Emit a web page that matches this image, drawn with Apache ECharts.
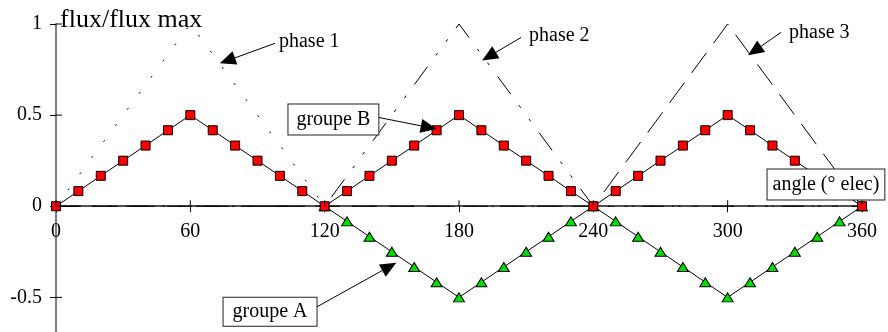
<!DOCTYPE html>
<html><head><meta charset="utf-8">
<script src="https://cdn.jsdelivr.net/npm/echarts@6/dist/echarts.min.js"></script>
<style>html,body{margin:0;padding:0;background:#fff}#c{width:888px;height:332px}</style>
</head><body><div id="c"></div>
<script>
// ---- data ----
const angles = [0,10,20,30,40,50,60,70,80,90,100,110,120,130,140,150,160,170,180,190,200,210,220,230,240,250,260,270,280,290,300,310,320,330,340,350,360];
const groupeB = [0,0.083,0.167,0.25,0.333,0.417,0.5,0.417,0.333,0.25,0.167,0.083,0,
                 0.083,0.167,0.25,0.333,0.417,0.5,0.417,0.333,0.25,0.167,0.083,0,
                 0.083,0.167,0.25,0.333,0.417,0.5,0.417,0.333,0.25,0.167,0.083,0];
const groupeA = [null,null,null,null,null,null,null,null,null,null,null,null,0,
                 -0.083,-0.167,-0.25,-0.333,-0.417,-0.5,-0.417,-0.333,-0.25,-0.167,-0.083,0,
                 -0.083,-0.167,-0.25,-0.333,-0.417,-0.5,-0.417,-0.333,-0.25,-0.167,-0.083,0];
const phaseAngles = [0,60,120,180,240,300,360];
const phase1 = [0,1,0,0,0,0,0];
const phase2 = [0,0,0,1,0,0,0];
const phase3 = [0,0,0,0,0,1,0];
const xTicks = [0,60,120,180,240,300,360];
const yTicks = [-0.5,0,0.5,1];
const yTickLabels = ['-0.5','0','0.5','1'];

// ---- annotations (data units) ----
const phaseLabels = ['phase 1','phase 2','phase 3'];
const phaseLabelPos = [[99.6,0.90],[211.3,0.938],[327.4,0.954]];
const boxLabels = ['groupe B','groupe A','angle (° elec)'];
const boxCenters = [[123.9,0.476],[95.6,-0.579],[343.9,0.119]];
const boxPadding = [[4,8],[3,9],[4,5]];
const arrowTails = [[97.8,0.894],[207.7,0.926],[323.8,0.954],[143.4,0.489],[116.1,-0.555]];
const arrowTips  = [[73.2,0.784],[190.3,0.80],[309.1,0.828],[170.0,0.424],[152.0,-0.31]];
const yName = 'flux/flux max';
const yNamePos = [1.8,1.02];

const FONT = 'Liberation Serif';
const zip = (xs, ys) => xs.map((x,i)=>[x, ys[i]]).filter(p => p[1] !== null);

const chart = echarts.init(document.getElementById('c'), null, {renderer:'canvas'});
const tickStyle = {color:'#000', width:1};
const option = {
  animation:false,
  backgroundColor:'#fff',
  grid:{left:56, right:26, top:24, bottom:0, containLabel:false, outerBoundsMode:'none'},
  xAxis:[
    {type:'value', min:0, max:360, position:'bottom',
     axisLine:{onZero:true, lineStyle:{color:'#505050', width:2}},
     axisTick:{length:6, lineStyle:tickStyle, customValues:xTicks},
     axisLabel:{show:false},
     splitLine:{show:false}}
  ],
  yAxis:[
    {type:'value', min:-0.69, max:1, position:'left',
     axisLine:{onZero:true, lineStyle:{color:'#808080', width:2}},
     axisTick:{length:6, lineStyle:tickStyle, customValues:yTicks},
     axisLabel:{show:false},
     splitLine:{show:false}}
  ],
  series:[
    {name:'xticks', type:'custom', data:xTicks.map(v=>[v,0]), z:5, silent:true, clip:false,
     renderItem:(params, api) => {
       const v = api.value(0);
       const p = api.coord([v, api.value(1)]);
       return {type:'group', children:[
         {type:'line', shape:{x1:p[0], y1:p[1], x2:p[0], y2:p[1]-6}, style:{stroke:'#000', lineWidth:1}},
         {type:'text', x:p[0], y:p[1]+16, style:{text:String(v), fontFamily:FONT, fontSize:20, fill:'#000', align:'center', verticalAlign:'top'}}
       ]};
     }},
    {name:'yticks', type:'custom', data:yTicks.map((v,i)=>[0,v,i]), z:5, silent:true, clip:false,
     renderItem:(params, api) => {
       const p = api.coord([api.value(0), api.value(1)]);
       return {type:'group', children:[
         {type:'line', shape:{x1:p[0], y1:p[1], x2:p[0]+6, y2:p[1]}, style:{stroke:'#000', lineWidth:1}},
         {type:'text', x:p[0]-14, y:p[1], style:{text:yTickLabels[api.value(2)], fontFamily:FONT, fontSize:20, fill:'#000', align:'right', verticalAlign:'middle'}}
       ]};
     }},
    {name:'phase 1', type:'line', data:zip(phaseAngles, phase1), symbol:'none', z:2,
     lineStyle:{color:'#000', width:1, type:[2,18]}},
    {name:'phase 2', type:'line', data:zip(phaseAngles, phase2), symbol:'none', z:2,
     lineStyle:{color:'#000', width:1, type:[22,14,3,14,3,14]}},
    {name:'phase 3', type:'line', data:zip(phaseAngles, phase3), symbol:'none', z:2,
     lineStyle:{color:'#000', width:1, type:[25,12]}},
    {name:'groupe A', type:'line', data:zip(angles, groupeA), symbol:'triangle', symbolSize:[11,9],
     showAllSymbol:true, z:3,
     itemStyle:{color:'#00e000', borderColor:'#000', borderWidth:1},
     lineStyle:{color:'#000', width:1}},
    {name:'groupe B', type:'line', data:zip(angles, groupeB), symbol:'rect', symbolSize:9,
     showAllSymbol:true, z:4,
     itemStyle:{color:'#ff0000', borderColor:'#000', borderWidth:1},
     lineStyle:{color:'#000', width:1}}
  ]
};
chart.setOption(option);

const px = p => chart.convertToPixel({xAxisIndex:0, yAxisIndex:0}, p);
const g = [];
const yn = px(yNamePos);
g.push({type:'text', x:yn[0], y:yn[1], z:100,
  style:{text:yName, fontFamily:FONT, fontSize:26, fill:'#000', align:'left', verticalAlign:'middle'}});
arrowTails.forEach((t,i) => {
  const a = px(t), b = px(arrowTips[i]);
  const dx = b[0]-a[0], dy = b[1]-a[1], L = Math.hypot(dx,dy);
  const ux = dx/L, uy = dy/L, hl = 16, hw = 7;
  const base = [b[0]-ux*hl, b[1]-uy*hl];
  g.push({type:'polyline', z:100, shape:{points:[a, base]}, style:{stroke:'#000', lineWidth:1, fill:null}});
  g.push({type:'polygon', z:100, shape:{points:[b, [base[0]-uy*hw, base[1]+ux*hw], [base[0]+uy*hw, base[1]-ux*hw]]},
    style:{fill:'#000'}});
});
phaseLabels.forEach((t,i) => {
  const p = px(phaseLabelPos[i]);
  g.push({type:'text', x:p[0], y:p[1], z:101,
    style:{text:t, fontFamily:FONT, fontSize:20, fill:'#000', align:'left', verticalAlign:'middle'}});
});
boxLabels.forEach((t,i) => {
  const p = px(boxCenters[i]);
  g.push({type:'text', x:p[0], y:p[1], z:102,
    style:{text:t, fontFamily:FONT, fontSize:20, fill:'#000', align:'center', verticalAlign:'middle',
      backgroundColor:'#fff', borderColor:'#222', borderWidth:1, padding:boxPadding[i], lineHeight:22}});
});
chart.setOption({graphic:g});
</script>
</body></html>
